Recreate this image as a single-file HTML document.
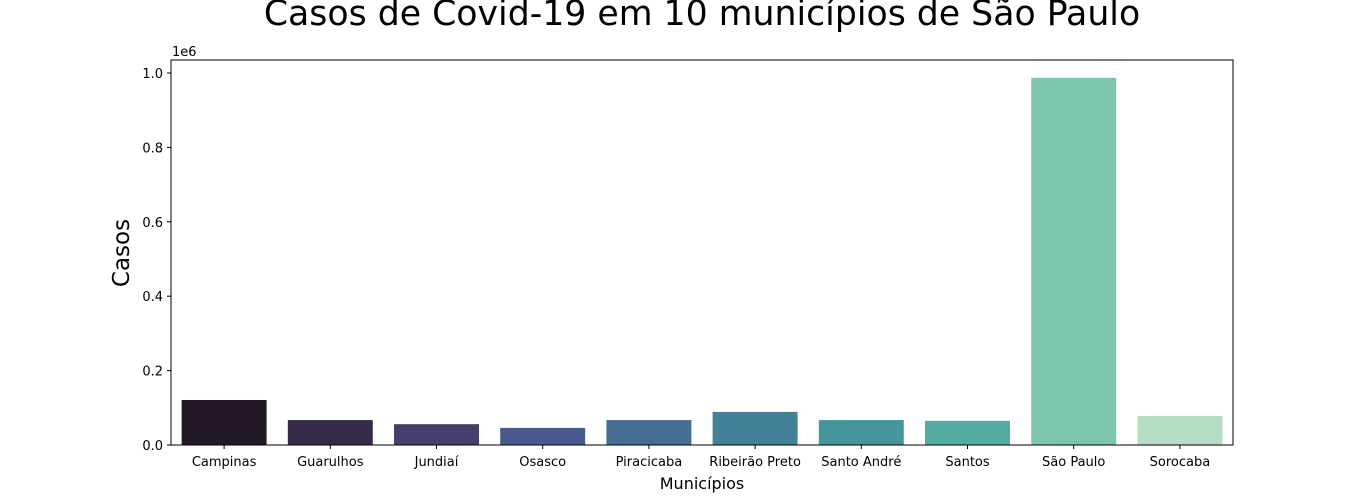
<!DOCTYPE html>
<html><head><meta charset="utf-8"><style>
body{margin:0;background:#fff;}
svg{display:block;font-family:"DejaVu Sans","Liberation Sans",sans-serif;}
</style></head><body>
<svg id="chart" width="1370" height="500"></svg>
<script>
const categories=["Campinas","Guarulhos","Jundiaí","Osasco","Piracicaba","Ribeirão Preto","Santo André","Santos","São Paulo","Sorocaba"];
const cases=[121000,67000,56000,46000,67000,89000,67000,65000,987000,78000];
const colors=["#241a27","#372a48","#463f6e","#475a8b","#436d91","#428197","#44969c","#52aca2","#7bc6ac","#b4ddc2"];
const yTicks=[0,0.2,0.4,0.6,0.8,1.0];
const yTickLabels=["0.0","0.2","0.4","0.6","0.8","1.0"];
const NS="http://www.w3.org/2000/svg";
const svg=document.getElementById('chart');
const L=171,R=1233,T=60,B=445;
const y=v=>B-(v/1e6)*372;
const slot=(R-L)/categories.length;
const x=i=>L+slot*i+slot/2;
function mk(tag,attrs,parent){const e=document.createElementNS(NS,tag);for(const k in attrs)e.setAttribute(k,attrs[k]);(parent||svg).appendChild(e);return e;}
categories.forEach((c,i)=>{
  const r=mk('rect',{x:x(i)-slot*0.4,y:y(cases[i]),width:slot*0.8,height:B-y(cases[i]),fill:colors[i]});
  
  
  const t=mk('line',{x1:x(i),x2:x(i),y1:B,y2:B+4,stroke:'#000'});
  
  
  const l=mk('text',{x:x(i),y:B+21,'text-anchor':'middle','font-size':13});
  l.textContent=c;
  
  
});
yTicks.forEach((v,i)=>{
  const t=mk('line',{x1:L-4,x2:L,y1:y(v*1e6),y2:y(v*1e6),stroke:'#000'});
  
  
  const l=mk('text',{x:L-8,y:y(v*1e6)+5,'text-anchor':'end','font-size':13});
  l.textContent=yTickLabels[i];
  
  
});
const frame=mk('rect',{x:L,y:T,width:R-L,height:B-T,fill:'none',stroke:'#000','stroke-width':1});


const off=mk('text',{x:L+1,y:T-4,'font-size':13});off.textContent='1e6';


const xt=mk('text',{x:(L+R)/2,y:489,'text-anchor':'middle','font-size':16});xt.textContent='Municípios';


const yt=mk('text',{x:0,y:0,'text-anchor':'middle','font-size':23,transform:'translate(129,253) rotate(-90)'});yt.textContent='Casos';


const ti=mk('text',{x:(L+R)/2,y:25,'text-anchor':'middle','font-size':34.7});ti.textContent='Casos de Covid-19 em 10 municípios de São Paulo';


</script>
</body></html>
